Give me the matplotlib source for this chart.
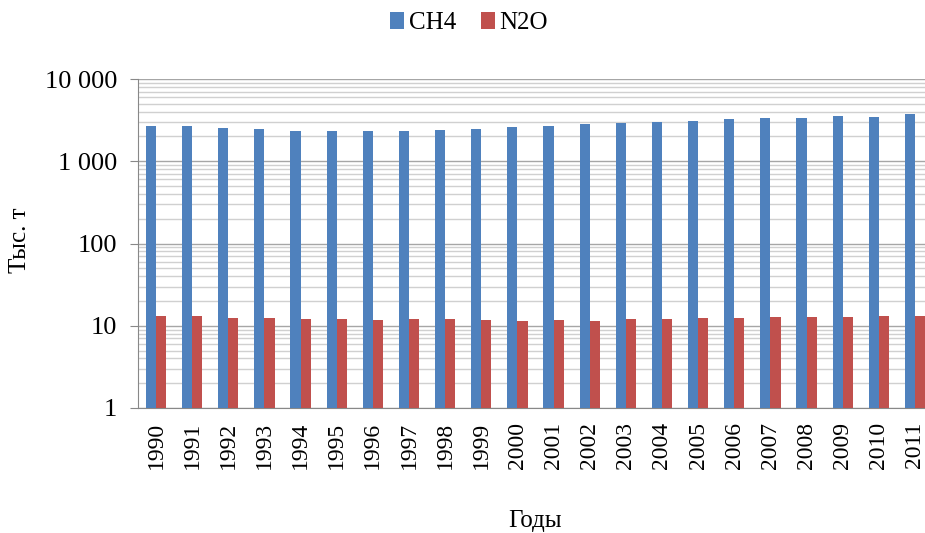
import numpy as np
import matplotlib
matplotlib.use("Agg")
import matplotlib.pyplot as plt
from matplotlib.ticker import LogLocator, FixedLocator, NullFormatter

years = [str(y) for y in range(1990, 2012)]
ch4 = [2700, 2690, 2510, 2445, 2350, 2330, 2330, 2330, 2420, 2500, 2600,
       2700, 2800, 2890, 3030, 3110, 3240, 3330, 3330, 3580, 3450, 3720]
n2o = [13.3, 13.3, 12.3, 12.3, 12.0, 12.0, 11.6, 12.0, 12.0, 11.6, 11.3,
       11.6, 11.5, 12.0, 12.0, 12.3, 12.3, 12.8, 12.8, 12.8, 13.3, 13.3]
ytick_vals = [1, 10, 100, 1000, 10000]
ytick_labels = ["1", "10", "100", "1 000", "10 000"]

plt.rcParams['font.family'] = ['Liberation Serif', 'DejaVu Serif']

fig = plt.figure(figsize=(9.25, 5.33), dpi=100)
ax = fig.add_axes([138 / 925, 1 - 408 / 533, 795 / 925, (408 - 79) / 533])

x = np.arange(len(years))
w = 0.28
ax.bar(x - w / 2, ch4, w, color='#4F81BD', label='CH4', zorder=3)
ax.bar(x + w / 2, n2o, w, color='#C0504D', label='N2O', zorder=3)

ax.set_yscale('log')
ax.set_ylim(1, 10000)
ax.set_xlim(-0.5, len(years) - 0.5)
ax.yaxis.set_major_locator(FixedLocator(ytick_vals))
ax.set_yticklabels(ytick_labels, fontsize=19)
ax.yaxis.set_minor_locator(LogLocator(base=10, subs=np.arange(2, 10)))
ax.yaxis.set_minor_formatter(NullFormatter())
ax.tick_params(axis='y', which='major', length=6, color='#888888', pad=9)
ax.tick_params(axis='y', which='minor', length=0)

ax.set_xticks(x)
ax.set_xticklabels(years, rotation=90, fontsize=17)
ax.tick_params(axis='x', length=0, pad=10)

ax.grid(True, which='major', axis='y', color='#A6A6A6', linewidth=1.0, zorder=0)
ax.grid(True, which='minor', axis='y', color='#D0D0D0', linewidth=1.0, zorder=0)

for side in ['top', 'right']:
    ax.spines[side].set_visible(False)
for side in ['left', 'bottom']:
    ax.spines[side].set_color('#888888')

fig.text(20 / 925, 1 - 240 / 533, 'Тыс. т', fontsize=18, rotation=90,
         ha='center', va='center')
fig.text(535 / 925, 1 - 521 / 533, 'Годы', fontsize=18, ha='center', va='center')

fig.legend(loc='center', bbox_to_anchor=(469 / 925, 1 - 23 / 533), ncol=2,
           frameon=False, fontsize=18, handlelength=0.55, handleheight=0.7,
           handletextpad=0.2, columnspacing=1.0)

fig.savefig('out.png', dpi=100)
